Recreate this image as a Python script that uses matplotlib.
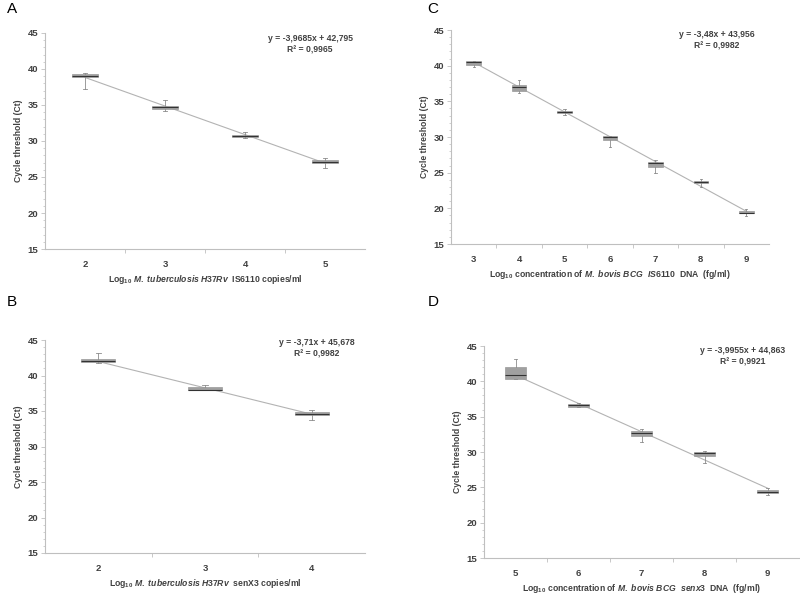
import matplotlib
matplotlib.use("Agg")
import matplotlib.pyplot as plt
from matplotlib.ticker import MultipleLocator, FixedLocator, NullFormatter

FONT = 'Liberation Sans'
plt.rcParams['font.family'] = [FONT, 'DejaVu Sans']
plt.rcParams['mathtext.fontset'] = 'custom'
plt.rcParams['mathtext.rm'] = FONT + ':bold'
plt.rcParams['mathtext.it'] = FONT + ':italic:bold'
plt.rcParams['mathtext.bf'] = FONT + ':bold'

# ---- data ----
# each box: (whisker low, q1, median, q3, whisker high)
a_x = [2, 3, 4, 5]
a_boxes = [(37.2, 38.85, 39.0, 39.35, 39.4),
           (34.2, 34.45, 34.7, 34.9, 35.65),
           (30.4, 30.5, 30.7, 30.9, 31.2),
           (26.25, 26.95, 27.1, 27.35, 27.6)]
a_fit = (-3.9685, 42.795)
a_eq = ["y = -3,9685x + 42,795", "R² = 0,9965"]

b_x = [2, 3, 4]
b_boxes = [(41.7, 41.9, 42.0, 42.35, 43.1),
           (37.9, 37.9, 38.0, 38.35, 38.7),
           (33.75, 34.4, 34.6, 34.85, 35.15)]
b_fit = (-3.71, 45.678)
b_eq = ["y = -3,71x + 45,678", "R² = 0,9982"]

c_x = [3, 4, 5, 6, 7, 8, 9]
c_boxes = [(39.8, 40.15, 40.5, 40.65, 40.7),
           (36.2, 36.5, 36.95, 37.3, 38.0),
           (33.15, 33.35, 33.5, 33.6, 33.9),
           (28.6, 29.55, 30.0, 30.15, 30.2),
           (25.0, 25.85, 26.3, 26.5, 26.75),
           (23.05, 23.55, 23.7, 23.85, 24.1),
           (18.9, 19.3, 19.4, 19.6, 19.95)]
c_fit = (-3.48, 43.956)
c_eq = ["y = -3,48x + 43,956", "R² = 0,9982"]

d_x = [5, 6, 7, 8, 9]
d_boxes = [(40.3, 40.3, 40.95, 42.0, 43.1),
           (36.35, 36.4, 36.6, 36.8, 37.0),
           (31.45, 32.25, 32.7, 32.95, 33.2),
           (28.5, 29.45, 29.8, 30.0, 30.1),
           (23.9, 24.2, 24.35, 24.6, 24.9)]
d_fit = (-3.9955, 44.863)
d_eq = ["y = -3,9955x + 44,863", "R² = 0,9921"]

a_xlabel = r"Log$_{10}$ $\it{M.\ tuberculosis\ H37Rv}$  IS6110 copies/ml"
b_xlabel = r"Log$_{10}$ $\it{M.\ tuberculosis\ H37Rv}$  senX3 copies/ml"
c_xlabel = r"Log$_{10}$ concentration of $\it{M.\ bovis\ BCG\ \ IS6110}$  DNA  (fg/ml)"
d_xlabel = r"Log$_{10}$ concentration of $\it{M.\ bovis\ BCG\ \ senx3}$  DNA  (fg/ml)"
ylabel = "Cycle threshold (Ct)"

TXT = '#404040'
AX = '#bfbfbf'
FS = 6.2


def panel(ax, xs, boxes, fit, eq, xlabel, eq_pos):
    stats = [dict(whislo=b[0], q1=b[1], med=b[2], q3=b[3], whishi=b[4]) for b in boxes]
    pos = list(range(1, len(xs) + 1))
    ax.bxp(stats, positions=pos, widths=0.32, showfliers=False, patch_artist=True,
           capwidths=0.05,
           boxprops=dict(facecolor='#a0a0a0', edgecolor='#999999', linewidth=0.5),
           whiskerprops=dict(color='#8c8c8c', linewidth=0.6),
           capprops=dict(color='#8c8c8c', linewidth=0.6),
           medianprops=dict(color='#333333', linewidth=0.8))
    # linear trendline over category index
    x0, x1 = pos[0], pos[-1]
    ax.plot([x0, x1], [fit[0] * x0 + fit[1], fit[0] * x1 + fit[1]],
            color='#b3b3b3', linewidth=0.8, zorder=1)

    ax.set_xlim(0.5, len(xs) + 0.5)
    ax.set_ylim(15, 45)
    ax.yaxis.set_major_locator(MultipleLocator(5))
    ax.yaxis.set_minor_locator(MultipleLocator(1))
    ax.set_xticks(pos)
    ax.set_xticklabels([str(v) for v in xs])
    ax.xaxis.set_minor_locator(FixedLocator([p + 0.5 for p in pos[:-1]]))
    ax.xaxis.set_minor_formatter(NullFormatter())
    ax.tick_params(axis='x', which='major', length=0, pad=8, labelsize=6.8, labelcolor=TXT)
    ax.tick_params(axis='x', which='minor', length=3, color=AX, width=0.6)
    ax.tick_params(axis='y', which='major', length=3, color=AX, width=0.6, labelsize=6.8,
                   labelcolor=TXT, pad=2)
    ax.tick_params(axis='y', which='minor', length=1.5, color=AX, width=0.5)
    for lab in ax.get_xticklabels() + ax.get_yticklabels():
        lab.set_fontweight('bold')
    for s in ['top', 'right']:
        ax.spines[s].set_visible(False)
    for s in ['left', 'bottom']:
        ax.spines[s].set_color(AX)
        ax.spines[s].set_linewidth(0.8)
    ax.set_xlabel(xlabel, fontsize=FS, color=TXT, fontweight='bold', labelpad=3)
    ax.set_ylabel(ylabel, fontsize=FS, color=TXT, fontweight='bold', labelpad=3)
    ax.text(eq_pos[0], eq_pos[1], eq[0] + "\n" + eq[1], transform=ax.transAxes,
            ha='center', va='top', fontsize=FS, color=TXT, fontweight='bold',
            linespacing=1.3, multialignment='center')


fig = plt.figure(figsize=(8, 6.04), dpi=100)
W, H = 800, 604


def make_axes(left, right, top, bottom):
    return fig.add_axes([left / W, 1 - bottom / H, (right - left) / W, (bottom - top) / H])


axA = make_axes(45, 365, 33, 249)
axC = make_axes(451, 769, 30, 244)
axB = make_axes(45, 365, 340, 553)
axD = make_axes(484, 799, 346, 558)

panel(axA, a_x, a_boxes, a_fit, a_eq, a_xlabel, ((310 - 45) / 320, (249 - 34) / 216))
panel(axC, c_x, c_boxes, c_fit, c_eq, c_xlabel, ((717 - 451) / 318, (244 - 30) / 214))
panel(axB, b_x, b_boxes, b_fit, b_eq, b_xlabel, ((317 - 45) / 320, (553 - 338) / 213))
panel(axD, d_x, d_boxes, d_fit, d_eq, d_xlabel, ((743 - 484) / 315, (558 - 346) / 212))

for letter, x, y in [("A", 12, 9), ("C", 433, 9), ("B", 12, 302), ("D", 433, 302)]:
    fig.text(x / W, 1 - y / H, letter, fontsize=11, ha='center', va='center', color='black')

fig.savefig("out.png", dpi=100, facecolor='white')
